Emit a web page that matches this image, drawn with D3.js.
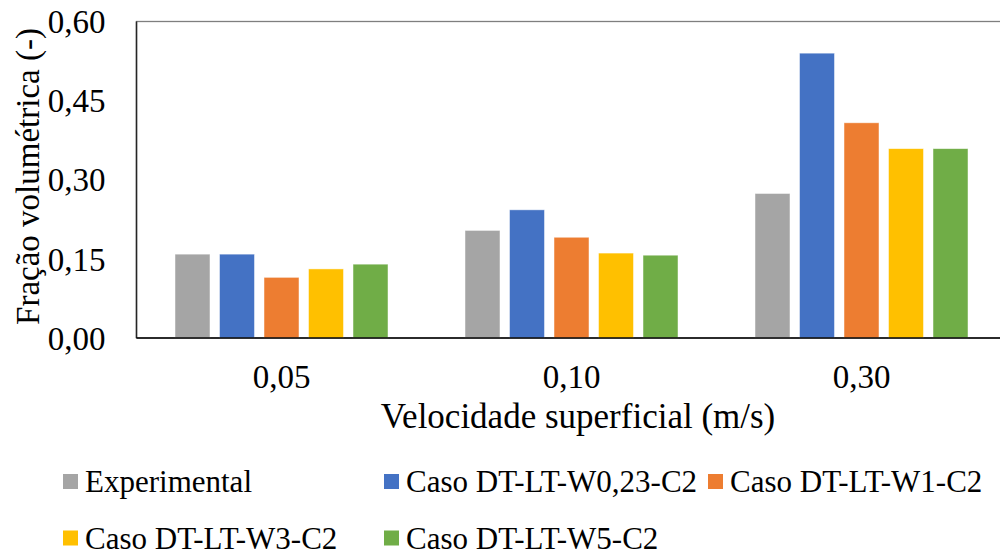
<!DOCTYPE html>
<html>
<head>
<meta charset="utf-8">
<script src="https://cdn.jsdelivr.net/npm/d3@7/dist/d3.min.js"></script>
<style>
  html, body { margin: 0; padding: 0; background: #fff; }
  svg { display: block; font-family: "Liberation Serif", "Times New Roman", serif; }
</style>
</head>
<body>
<svg id="chart" width="1000" height="556"></svg>
<script>
const categories = ["0,05", "0,10", "0,30"];
const seriesNames = ["Experimental", "Caso DT-LT-W0,23-C2", "Caso DT-LT-W1-C2", "Caso DT-LT-W3-C2", "Caso DT-LT-W5-C2"];
const seriesColors = ["#a5a5a5", "#4472c4", "#ed7d31", "#ffc000", "#70ad47"];
const experimental = [0.159, 0.204, 0.274];
const casoW023 = [0.159, 0.243, 0.540];
const casoW1 = [0.115, 0.191, 0.408];
const casoW3 = [0.131, 0.161, 0.359];
const casoW5 = [0.140, 0.157, 0.359];
const yTicks = [0, 0.15, 0.30, 0.45, 0.60];
const yTitle = "Fração volumétrica (-)";
const xTitle = "Velocidade superficial (m/s)";

const seriesValues = [experimental, casoW023, casoW1, casoW3, casoW5];

const svg = d3.select("#chart");
const plot = { left: 136.5, right: 1006.5, top: 21.5, bottom: 338 };

const y = d3.scaleLinear().domain([0, 0.6]).range([plot.bottom, plot.top]);
const x0 = d3.scaleBand().domain(categories).range([plot.left, plot.right]).paddingInner(0).paddingOuter(0);
const x1 = d3.scaleBand().domain(d3.range(seriesNames.length)).range([0, x0.bandwidth()]).paddingInner(0.2135).paddingOuter(0.865);

const fmt = v => d3.format(".2f")(v).replace(".", ",");

// plot area border
svg.append("rect")
  .attr("x", plot.left).attr("y", plot.top)
  .attr("width", plot.right - plot.left).attr("height", plot.bottom - plot.top)
  .attr("fill", "none").attr("stroke", "#7f7f7f").attr("stroke-width", 1.3);

// bars
const groups = svg.append("g").selectAll("g")
  .data(categories)
  .join("g")
  .attr("transform", d => `translate(${x0(d)},0)`);

groups.selectAll("rect")
  .data((c, ci) => seriesValues.map((vals, si) => ({ si, v: vals[ci] })))
  .join("rect")
  .attr("x", d => x1(d.si))
  .attr("width", x1.bandwidth())
  .attr("y", d => y(d.v))
  .attr("height", d => y(0) - y(d.v))
  .attr("fill", d => seriesColors[d.si])
  .attr("stroke", "#ffffff")
  .attr("stroke-opacity", 0.6)
  .attr("stroke-width", 0.8);

// y axis line
svg.append("line")
  .attr("x1", plot.left).attr("x2", plot.left)
  .attr("y1", plot.top).attr("y2", plot.bottom)
  .attr("stroke", "#262626").attr("stroke-width", 1.5);

// x axis line
svg.append("line")
  .attr("x1", plot.left).attr("x2", 1000)
  .attr("y1", plot.bottom).attr("y2", plot.bottom)
  .attr("stroke", "#000").attr("stroke-width", 1.5);

// y tick labels
const yAxis = d3.axisLeft(y).tickValues(yTicks).tickFormat(fmt).tickSize(0).tickPadding(31);
const yg = svg.append("g").attr("transform", `translate(${plot.left},0)`).call(yAxis);
yg.select(".domain").remove();
yg.selectAll("text").attr("font-size", 33).attr("font-family", "Liberation Serif").attr("fill", "#000").attr("dy", "0.34em");

// x tick labels
const xAxis = d3.axisBottom(x0).tickSize(0).tickPadding(0);
const xg = svg.append("g").attr("transform", `translate(0,${plot.bottom})`).call(xAxis);
xg.select(".domain").remove();
xg.selectAll("text").attr("font-size", 33).attr("font-family", "Liberation Serif").attr("fill", "#000").attr("y", 50).attr("dy", 0);

// axis titles
svg.append("text")
  .attr("x", 578).attr("y", 428)
  .attr("text-anchor", "middle").attr("font-size", 35).attr("fill", "#000")
  .text(xTitle);

svg.append("text")
  .attr("transform", `translate(39,176.5) rotate(-90)`)
  .attr("text-anchor", "middle").attr("font-size", 33).attr("fill", "#000")
  .text(yTitle);

// legend
const legendPos = [[63, 481.5], [384, 481.5], [708, 481.5], [63, 538], [384, 538]];
const lg = svg.append("g").selectAll("g")
  .data(seriesNames)
  .join("g")
  .attr("transform", (d, i) => `translate(${legendPos[i][0]},${legendPos[i][1]})`);
lg.append("rect").attr("x", 0).attr("y", -7.5).attr("width", 15).attr("height", 15)
  .attr("fill", (d, i) => seriesColors[i]);
lg.append("text").attr("x", 22).attr("y", 0).attr("dy", "0.34em")
  .attr("font-size", 31).attr("fill", "#000")
  .text(d => d);
</script>
</body>
</html>
